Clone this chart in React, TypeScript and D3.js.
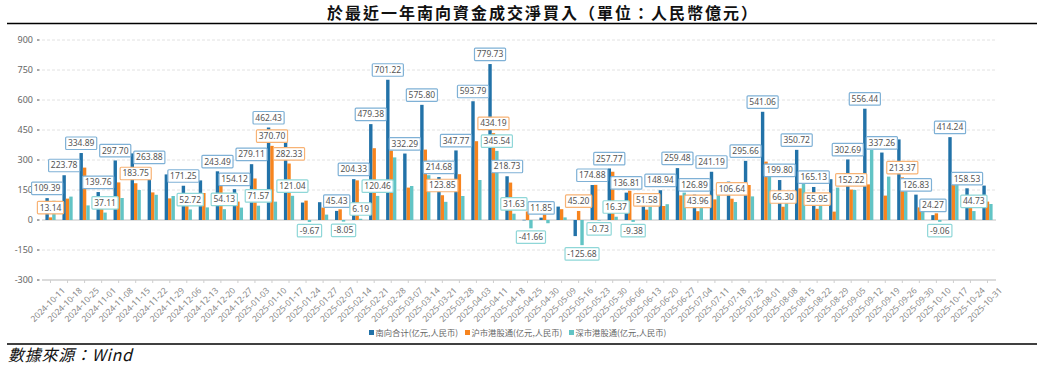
import React from "react";
import * as d3 from "d3";

const dates = [
  "2024-10-11","2024-10-18","2024-10-25","2024-11-01","2024-11-08","2024-11-15","2024-11-22","2024-11-29",
  "2024-12-06","2024-12-13","2024-12-20","2024-12-27","2025-01-03","2025-01-10","2025-01-17","2025-01-24",
  "2025-01-27","2025-02-07","2025-02-14","2025-02-21","2025-02-28","2025-03-07","2025-03-14","2025-03-21",
  "2025-03-28","2025-04-03","2025-04-11","2025-04-18","2025-04-25","2025-04-30","2025-05-09","2025-05-16",
  "2025-05-23","2025-05-30","2025-06-06","2025-06-13","2025-06-20","2025-06-27","2025-07-04","2025-07-11",
  "2025-07-18","2025-07-25","2025-08-01","2025-08-08","2025-08-15","2025-08-22","2025-08-29","2025-09-05",
  "2025-09-12","2025-09-19","2025-09-26","2025-09-30","2025-10-10","2025-10-17","2025-10-24","2025-10-31",
];

// 南向合计
const southTotal = [
  109.39, 223.78, 334.89, 139.76, 297.70, 333, 263.88, 228,
  171.25, 198, 243.49, 154.12, 279.11, 462.43, 403.37, 87.23,
  89, 45.43, 204.33, 479.38, 701.22, 332.29, 575.80, 214.68,
  347.77, 593.79, 779.73, 218.73, 0.84, 11.85, 67, -80.48,
  174.88, 257.77, 136.81, 118.6, 148.94, 259.48, 126.89, 241.19,
  192, 295.66, 541.06, 199.80, 350.72, 165.13, 204, 302.69,
  556.44, 337.26, 403, 126.83, 24.27, 414.24, 158.53, 172,
];
// 沪市港股通
const shanghai = [
  13.14, 107, 262, 102.65, 188, 183.75, 138, 108,
  118.53, 135, 189.36, 92, 207.54, 370.70, 282.33, 96.9,
  62, 53.48, 198.14, 358.92, 347, 162, 352, 123.85,
  229, 394, 434.19, 187.1, 42.5, 28, 54, 45.20,
  175.61, 241.4, 146.19, 51.58, 70, 123, 43.96, 103,
  106.64, 175, 292, 66.30, 158, 55.95, 42, 152.22,
  178, 122, 213.37, 63, 33.33, 175, 113.8, 92,
];
// 深市港股通
const shenzhen = [
  96.25, 117, 73, 37.11, 110, 150, 126, 120,
  52.72, 63, 54.13, 62, 71.57, 91.73, 121.04, -9.67,
  27, -8.05, 6.19, 120.46, 313, 170, 224, 90.83,
  120, 200, 345.54, 31.63, -41.66, -16.15, 13, -125.68,
  -0.73, 16.37, -9.38, 67, 79, 137, 82.93, 138.19,
  90, 118, 217, 133.5, 183, 109.18, 162, 150.47,
  350, 217, 189.63, 63.83, -9.06, 215, 44.73, 80,
];

// indices of bars that carry a value label
const southLabelIdx = [0,1,2,3,4,6,8,10,11,12,13,17,18,19,20,21,22,23,24,25,26,27,29,32,33,34,36,37,38,39,41,42,43,44,45,47,48,49,51,52,53,54];
const shanghaiLabelIdx = [0,5,13,14,23,26,31,35,38,40,43,45,47,50];
const shenzhenLabelIdx = [3,8,10,12,14,15,17,18,19,26,27,28,31,32,33,34,52,54];

const yTicks = [-300, -150, 0, 150, 300, 450, 600, 750, 900];

const seriesNames = ["南向合计(亿元,人民币)", "沪市港股通(亿元,人民币)", "深市港股通(亿元,人民币)"];
const seriesColors = ["#2272a8", "#f7841e", "#62c4c5"];
const labelBorders = ["#7fb1d6", "#f8b375", "#8fd7d8"];

const W = 1037, H = 376;
const X0 = 42, X1 = 996;

function textW(s: string, fs: number) {
  let w = 0;
  for (const ch of s) {
    if (ch === ".") w += 0.27;
    else if (ch === "-") w += 0.34;
    else w += 0.572;
  }
  return w * fs;
}

export default function App() {
  const x = d3.scaleBand<string>().domain(dates).range([X0, X1]).paddingInner(0).paddingOuter(0);
  const sub = d3.scaleBand<number>().domain([0, 1, 2]).range([0, x.bandwidth()]).paddingInner(0).paddingOuter(1);
  const y = d3.scaleLinear().domain([-300, 900]).range([280, 40]);
  const series = [southTotal, shanghai, shenzhen];
  const labelIdx = [southLabelIdx, shanghaiLabelIdx, shenzhenLabelIdx];
  const lfs = 8.5;
  const boxH = 12.5;

  return (
    <div style={{ position: "absolute", left: 0, top: 0 }}>
      <svg width={W} height={H} style={{ display: "block", background: "#fff" }}>
        {/* title */}
        <text x={327} y={19} fontFamily="'Noto Sans CJK TC', serif" fontWeight={700} fontSize={16}
          textLength={430} lengthAdjust="spacing" fill="#111">於最近一年南向資金成交淨買入（單位：人民幣億元）</text>
        <line x1={7} x2={1037} y1={23.5} y2={23.5} stroke="#000" strokeWidth={1.5} />

        {/* grid */}
        {yTicks.map((t) => (
          <g key={t}>
            {t !== -300 && (
              <line x1={X0} x2={X1} y1={y(t)} y2={y(t)}
                stroke={t === 0 ? "#d6d6d6" : "#e2e2e2"}
                strokeWidth={t === 0 ? 1.5 : 1}
                strokeDasharray={t === 0 ? undefined : "3,2"} />
            )}
            <text x={33} y={y(t)} dy="0.35em" textAnchor="end" fontFamily="'Noto Sans', sans-serif" fontSize={9} fill="#666">{t}</text>
            <line x1={37} x2={39.5} y1={y(t)} y2={y(t)} stroke="#888" strokeWidth={1.5} />
          </g>
        ))}
        {/* x axis */}
        <line x1={X0} x2={X1} y1={y(-300)} y2={y(-300)} stroke="#cfcfcf" strokeWidth={1.3} />
        {dates.map((d) => {
          const c = (x(d) as number) + x.bandwidth() / 2;
          return (
            <g key={d}>
              <line x1={c} x2={c} y1={y(-300)} y2={y(-300) + 3} stroke="#cfcfcf" strokeWidth={1} />
              <text transform={`translate(${c + 13},${289}) rotate(-45)`} textAnchor="end" dy="0.35em"
                fontFamily="'Noto Sans', sans-serif" fontSize={8.5} fill="#888">{d}</text>
            </g>
          );
        })}

        {/* bars */}
        {series.map((vals, si) => (
          <g key={si} fill={seriesColors[si]}>
            {vals.map((v, i) => {
              const bx = (x(dates[i]) as number) + (sub(si) as number);
              const y0 = y(Math.max(v, 0));
              const y1 = y(Math.min(v, 0));
              return <rect key={i} x={bx} y={y0} width={sub.bandwidth()} height={Math.max(0.5, y1 - y0)} />;
            })}
          </g>
        ))}

        {/* labels */}
        {series.map((vals, si) => (
          <g key={"l" + si}>
            {labelIdx[si].map((i) => {
              const v = vals[i];
              const s = v.toFixed(2);
              const cx = (x(dates[i]) as number) + (sub(si) as number) + sub.bandwidth() / 2;
              const bw = textW(s, lfs) + 4.5;
              const top = v >= 0 ? y(v) - 3.5 - boxH : y(v) + 2.5;
              return (
                <g key={i}>
                  <rect x={cx - bw / 2} y={top} width={bw} height={boxH} rx={1}
                    fill="#fff" stroke={labelBorders[si]} strokeWidth={1.2} />
                  <text x={cx} y={top + boxH / 2} dy="0.35em" textAnchor="middle"
                    fontFamily="'Noto Sans', sans-serif" fontSize={lfs} fill="#555">{s}</text>
                </g>
              );
            })}
          </g>
        ))}

        {/* legend */}
        {seriesNames.map((n, si) => {
          const lx = [369, 465, 569][si];
          return (
            <g key={n}>
              <rect x={lx} y={330} width={5} height={5} fill={seriesColors[si]} />
              <text x={lx + 6.5} y={332.7} dy="0.35em" fontFamily="'Noto Sans CJK SC', sans-serif" fontSize={8.3} fill="#666">{n}</text>
            </g>
          );
        })}

        <line x1={7} x2={1037} y1={344} y2={344} stroke="#000" strokeWidth={1.5} />
        <text x={8} y={361} fontFamily="'Noto Sans CJK TC', sans-serif" fontStyle="italic" fontSize={16}
          fill="#111" textLength={124} lengthAdjust="spacing">數據來源：Wind</text>
      </svg>
    </div>
  );
}
